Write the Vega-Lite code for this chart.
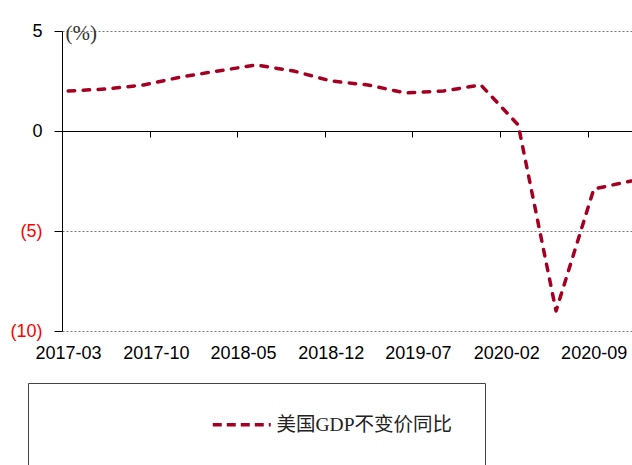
{
  "$schema": "https://vega.github.io/schema/vega-lite/v6.json",
  "autosize": {"type": "none"},
  "padding": {"left": 62, "top": 31, "right": 0, "bottom": 134},
  "width": 570,
  "height": 300,
  "background": "white",
  "config": {"view": {"stroke": null}},
  "data": {
    "values": [
      {"date": "2017-03-16", "value": 2.0, "series": "美国GDP不变价同比"},
      {"date": "2017-06-16", "value": 2.1, "series": "美国GDP不变价同比"},
      {"date": "2017-09-16", "value": 2.3, "series": "美国GDP不变价同比"},
      {"date": "2017-12-16", "value": 2.7, "series": "美国GDP不变价同比"},
      {"date": "2018-03-16", "value": 3.0, "series": "美国GDP不变价同比"},
      {"date": "2018-06-16", "value": 3.3, "series": "美国GDP不变价同比"},
      {"date": "2018-09-16", "value": 3.0, "series": "美国GDP不变价同比"},
      {"date": "2018-12-16", "value": 2.5, "series": "美国GDP不变价同比"},
      {"date": "2019-03-16", "value": 2.3, "series": "美国GDP不变价同比"},
      {"date": "2019-06-16", "value": 1.9, "series": "美国GDP不变价同比"},
      {"date": "2019-09-16", "value": 2.0, "series": "美国GDP不变价同比"},
      {"date": "2019-12-16", "value": 2.3, "series": "美国GDP不变价同比"},
      {"date": "2020-03-16", "value": 0.3, "series": "美国GDP不变价同比"},
      {"date": "2020-06-16", "value": -9.0, "series": "美国GDP不变价同比"},
      {"date": "2020-09-16", "value": -2.9, "series": "美国GDP不变价同比"},
      {"date": "2020-12-16", "value": -2.5, "series": "美国GDP不变价同比"}
    ],
    "format": {"parse": {"date": "utc:'%Y-%m-%d'"}}
  },
  "mark": {
    "type": "line",
    "interpolate": "linear",
    "strokeWidth": 3.5,
    "strokeDash": [6.5, 8.5],
    "strokeCap": "round",
    "strokeJoin": "round",
    "clip": false
  },
  "encoding": {
    "x": {
      "field": "date",
      "type": "temporal",
      "scale": {
        "type": "utc",
        "domain": [
          {"year": 2017, "month": 3, "date": 1, "utc": true},
          {"year": 2020, "month": 12, "date": 18, "utc": true}
        ]
      },
      "axis": {
        "orient": "top",
        "offset": -100,
        "values": [
          {"year": 2017, "month": 3, "date": 1, "utc": true},
          {"year": 2017, "month": 10, "date": 1, "utc": true},
          {"year": 2018, "month": 5, "date": 1, "utc": true},
          {"year": 2018, "month": 12, "date": 1, "utc": true},
          {"year": 2019, "month": 7, "date": 1, "utc": true},
          {"year": 2020, "month": 2, "date": 1, "utc": true},
          {"year": 2020, "month": 9, "date": 1, "utc": true}
        ],
        "labelExpr": "utcFormat(datum.value, '%Y-%m')",
        "title": null,
        "grid": false,
        "domain": true,
        "domainColor": "black",
        "domainWidth": 1,
        "ticks": true,
        "tickSize": -6,
        "tickColor": "black",
        "tickWidth": 1,
        "labelPadding": -207,
        "labelBaseline": "top",
        "labelAlign": "center",
        "labelOffset": 6,
        "labelFlush": false,
        "labelBound": false,
        "labelOverlap": false,
        "labelFont": "Liberation Sans",
        "labelFontSize": 18,
        "labelColor": "black"
      }
    },
    "y": {
      "field": "value",
      "type": "quantitative",
      "scale": {"domain": [-10, 5], "nice": false, "zero": false},
      "axis": {
        "values": [-10, -5, 0, 5],
        "labelExpr": "datum.value < 0 ? '(' + abs(datum.value) + ')' : datum.value + '\u00a0'",
        "labelColor": {"condition": {"test": "datum.value < 0", "value": "#FF0000"}, "value": "black"},
        "labelFont": "Liberation Sans",
        "labelFontSize": 18,
        "labelPadding": 12,
        "tickSize": 8,
        "tickColor": "black",
        "domainColor": "black",
        "domainWidth": 1,
        "grid": true,
        "gridColor": {"condition": {"test": "datum.value === 0", "value": "black"}, "value": "#777777"},
        "gridDash": {"condition": {"test": "datum.value === 0", "value": []}, "value": [2, 2]},
        "gridWidth": 1,
        "title": "(%)",
        "titleAngle": 0,
        "titleX": 3,
        "titleY": 2,
        "titleAlign": "left",
        "titleBaseline": "middle",
        "titleFont": "Liberation Serif",
        "titleFontSize": 21,
        "titleFontWeight": "normal",
        "titleColor": "#333333"
      }
    },
    "color": {
      "field": "series",
      "type": "nominal",
      "scale": {"range": ["#A50021"]},
      "legend": {
        "orient": "none",
        "legendX": -34,
        "legendY": 352,
        "title": null,
        "padding": 32,
        "strokeColor": "#444444",
        "symbolType": "M-4,0L4,0",
        "symbolSize": 210,
        "symbolStrokeWidth": 3.5,
        "symbolDash": [9, 5],
        "symbolStrokeColor": "#A50021",
        "symbolFillColor": "transparent",
        "symbolOffset": 172,
        "labelOffset": 25,
        "labelLimit": 0,
        "labelExpr": "datum.label + '\u00a0\u00a0\u00a0\u00a0\u00a0\u00a0\u00a0\u00a0\u00a0\u00a0'",
        "labelFont": "Liberation Serif, Noto Sans CJK SC",
        "labelFontSize": 19.5,
        "labelColor": "#222222"
      }
    }
  }
}
